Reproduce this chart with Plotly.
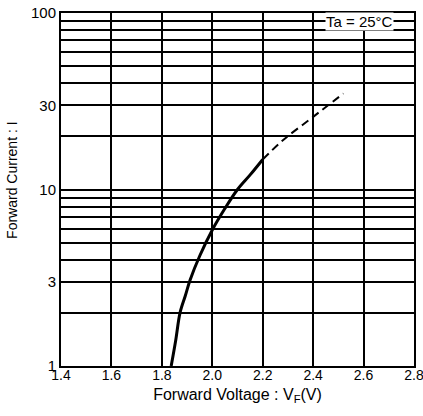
import math
import plotly.graph_objects as go

# Data
vf_solid = [1.837, 1.855, 1.872, 1.893, 1.912, 1.95, 2.0, 2.05, 2.1, 2.15, 2.2]
if_solid = [1.0, 1.4, 2.0, 2.5, 3.07, 4.2, 5.9, 7.8, 10.0, 12.1, 14.8]
vf_dash = [2.2, 2.28, 2.4, 2.52]
if_dash = [14.8, 19.0, 25.8, 35.0]

x_ticks = [1.4, 1.6, 1.8, 2.0, 2.2, 2.4, 2.6, 2.8]
x_ticktext = ["1.4", "1.6", "1.8", "2.0", "2.2", "2.4", "2.6", "2.8"]
y_grid = [1, 2, 3, 4, 5, 6, 7, 8, 9, 10, 20, 30, 40, 50, 60, 70, 80, 90, 100]
y_labeled = {1: "1", 3: "3", 10: "10", 30: "30", 100: "100"}

ann_text = "Ta = 25°C"
ann_v, ann_i = 2.583, 90
x_title = "Forward Voltage : V<sub>F</sub>(V)"
y_title = "Forward Current : I"

FONT = "Liberation Sans, Arial, sans-serif"

fig = go.Figure()
fig.add_trace(go.Scatter(x=vf_solid, y=if_solid, mode="lines", line_shape="spline",
                         line=dict(color="black", width=3), showlegend=False))
fig.add_trace(go.Scatter(x=vf_dash, y=if_dash, mode="lines", line_shape="spline",
                         line=dict(color="black", width=2, dash="8px,5px"), showlegend=False))

fig.add_annotation(x=ann_v, y=math.log10(ann_i), xref="x", yref="y", text=ann_text,
                   showarrow=False, bgcolor="white", borderpad=0,
                   font=dict(family=FONT, size=15, color="black"))

# y-axis title placed as rotated text left of the tick labels
fig.add_annotation(x=-0.139, y=0.527, xref="paper", yref="paper", text=y_title,
                   textangle=-90, showarrow=False, xanchor="center", yanchor="middle",
                   font=dict(family=FONT, size=14, color="black"))

fig.update_layout(
    width=423, height=416,
    margin=dict(l=61, r=9, t=13, b=50, autoexpand=False),
    paper_bgcolor="white", plot_bgcolor="white",
    font=dict(family=FONT, color="black"),
    xaxis=dict(range=[1.4, 2.8], tickvals=x_ticks, ticktext=x_ticktext,
               showgrid=True, gridcolor="black", gridwidth=2,
               showline=True, linecolor="black", linewidth=2, mirror=True,
               ticks="", tickfont=dict(size=14, family=FONT), automargin=False,
               ticklabeloverflow="allow", ticklabelstandoff=-5,
               title=dict(text=x_title, standoff=7,
                          font=dict(size=16, family=FONT)),
               zeroline=False),
    yaxis=dict(type="log", range=[0, 2], tickvals=y_grid,
               ticktext=[y_labeled.get(v, "") for v in y_grid],
               showgrid=True, gridcolor="black", gridwidth=2,
               showline=True, linecolor="black", linewidth=2, mirror=True,
               ticks="", tickfont=dict(size=15, family=FONT), automargin=False,
               ticklabeloverflow="allow",
               zeroline=False),
)

fig.write_html("out.html",
               config={"displayModeBar": False},
               post_script="document.body.style.margin='0';document.body.style.overflow='hidden';")
